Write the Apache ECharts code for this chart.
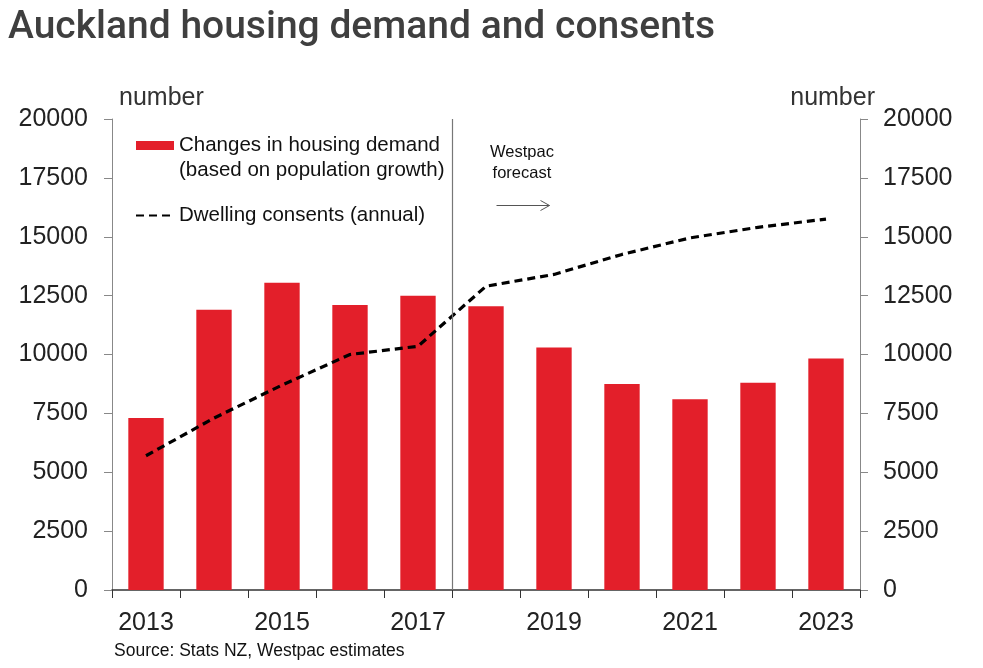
<!DOCTYPE html>
<html>
<head>
<meta charset="utf-8">
<script src="https://cdn.jsdelivr.net/npm/echarts@6/dist/echarts.min.js"></script>
<style>
html,body{margin:0;padding:0;background:#fff;}
#c{width:983px;height:668px;}
</style>
</head>
<body>
<div id="c"></div>
<script>
var years = ['2013','2014','2015','2016','2017','2018','2019','2020','2021','2022','2023'];
var demand = [7300, 11900, 13050, 12100, 12500, 12050, 10300, 8750, 8100, 8800, 9830];
var consents = [5700, 7300, 8700, 10000, 10350, 12900, 13400, 14250, 14950, 15400, 15750];
var yTicks = [0, 2500, 5000, 7500, 10000, 12500, 15000, 17500, 20000];
var forecastBoundary = [4.5];

var chart = echarts.init(document.getElementById('c'));
var font = 'Liberation Sans, Arial, sans-serif';
function plain(v){ return String(v); }
var barName = 'Changes in housing demand\n(based on population growth)';
chart.setOption({
  animation: false,
  backgroundColor: '#fff',
  title: {
    text: 'Auckland housing demand and consents',
    left: 3, top: 4,
    textStyle: {fontFamily: 'Roboto, sans-serif', fontSize: 39, fontWeight: 500, color: '#3f3f3f'}
  },
  grid: {left: 112, right: 123, top: 119, bottom: 78},
  legend: {
    orient: 'vertical', left: 130, top: 103,
    itemWidth: 38, itemHeight: 9, itemGap: 20,
    textStyle: {fontFamily: font, fontSize: 20.5, color: '#111', lineHeight: 25},
    formatter: function(name){ return name === barName ? ' \n' + name : name; },
    data: [{name: barName, icon: 'rect'},
           {name: 'Dwelling consents (annual)', itemStyle: {opacity: 0}}]
  },
  xAxis: [{
    type: 'category', data: years, boundaryGap: true,
    axisLine: {lineStyle: {color: '#333', width: 1.5}},
    axisTick: {show: true, interval: 0, length: 8, inside: false, lineStyle: {color: '#333'}},
    axisLabel: {interval: 1, fontFamily: font, fontSize: 25, color: '#222', margin: 21}
  }, {
    type: 'value', min: -0.5, max: 10.5, show: false
  }],
  yAxis: [{
    type: 'value', min: 0, max: 20000, interval: 2500, position: 'left',
    name: 'number', nameLocation: 'end', nameGap: 8,
    nameTextStyle: {fontFamily: font, fontSize: 25, color: '#333', align: 'left', padding: [0,0,0,7]},
    axisLine: {show: true, onZero: false, lineStyle: {color: '#888'}},
    axisTick: {show: true, length: 8, lineStyle: {color: '#888'}},
    splitLine: {show: false},
    axisLabel: {fontFamily: font, fontSize: 25, color: '#222', margin: 24, formatter: plain}
  }, {
    type: 'value', min: 0, max: 20000, interval: 2500, position: 'right',
    name: 'number', nameLocation: 'end', nameGap: 8,
    nameTextStyle: {fontFamily: font, fontSize: 25, color: '#333', align: 'right', padding: [0,-15,0,0]},
    axisLine: {show: true, onZero: false, lineStyle: {color: '#888'}},
    axisTick: {show: true, length: 8, lineStyle: {color: '#888'}},
    splitLine: {show: false},
    axisLabel: {fontFamily: font, fontSize: 25, color: '#222', margin: 23, formatter: plain}
  }],
  series: [{
    name: barName,
    type: 'bar', data: demand, barWidth: '52%',
    itemStyle: {color: '#e31f2a'}
  }, {
    name: 'Dwelling consents (annual)',
    type: 'line', data: consents, symbol: 'none',
    lineStyle: {color: '#000', width: 3.2, type: [8, 5]},
    itemStyle: {color: '#000'}
  }, {
    type: 'scatter', xAxisIndex: 1, data: [], silent: true,
    markLine: {
      silent: true, symbol: 'none', label: {show: false},
      lineStyle: {color: '#777', width: 1.2, type: 'solid'},
      data: forecastBoundary.map(function(v){ return [{coord: [v, 20000]}, {coord: [v, 0]}]; })
    }
  }],
  graphic: [{
    type: 'text', left: 490, top: 142,
    style: {text: 'Westpac\nforecast', fontFamily: font, fontSize: 16.5, fill: '#111', align: 'center', lineHeight: 21, textAlign: 'center', x: 33}
  }, {
    type: 'group', left: 494, top: 198,
    children: [
      {type: 'line', shape: {x1: 0, y1: 6, x2: 53, y2: 6}, style: {stroke: '#555', lineWidth: 1}},
      {type: 'polyline', shape: {points: [[44, 1], [53, 6], [44, 11]]}, style: {stroke: '#555', lineWidth: 1, fill: null}}
    ]
  }, {
    type: 'text', left: 114, top: 642,
    style: {text: 'Source: Stats NZ, Westpac estimates', fontFamily: font, fontSize: 17.5, fill: '#111'}
  }]
});
</script>
</body>
</html>
